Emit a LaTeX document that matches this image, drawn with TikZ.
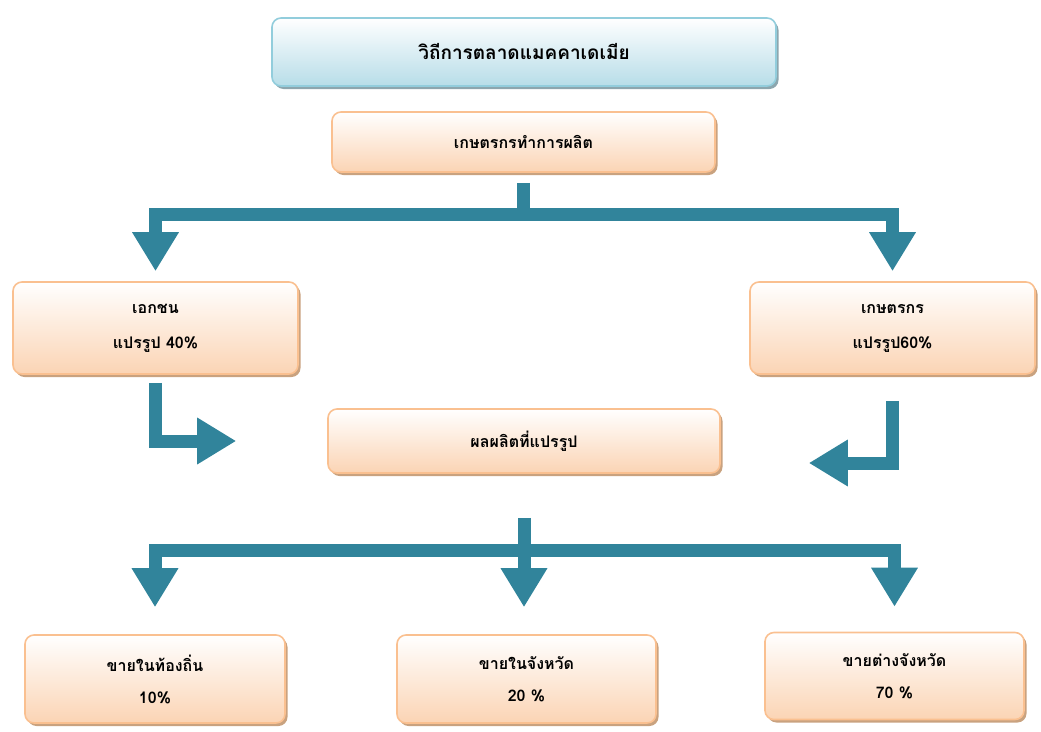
\documentclass[tikz,border=0pt]{standalone}
\usepackage{fontspec}
\newfontfamily\thaifont[Script=Thai]{Loma}
\usetikzlibrary{arrows.meta,shadows,calc}
\definecolor{flowteal}{HTML}{31849B}
\definecolor{peach}{HTML}{FBD4B4}
\definecolor{peachline}{HTML}{FAC090}
\definecolor{peachshadow}{HTML}{C9A27F}
\definecolor{titleblue}{HTML}{B7DDE8}
\definecolor{titleline}{HTML}{92CDDC}
\definecolor{titleshadow}{HTML}{8CA6AE}
\begin{document}
\begin{tikzpicture}[x=1pt,y=-1pt,
  panel/.style={rectangle, rounded corners=9pt, line width=1.6pt, top color=white,
    align=center, inner sep=0pt, text=black},
  box/.style={panel, draw=peachline, bottom color=peach,
    drop shadow={shadow xshift=2.5pt, shadow yshift=-3pt, fill=peachshadow, opacity=1},
    font=\thaifont\bfseries\fontsize{16}{19}\selectfont},
  titlebox/.style={panel, draw=titleline, bottom color=titleblue,
    drop shadow={shadow xshift=2.5pt, shadow yshift=-3pt, fill=titleshadow, opacity=1},
    font=\thaifont\bfseries\fontsize{19}{22}\selectfont},
  pipe/.style={draw=flowteal, line width=13pt},
  flow/.style={pipe, -{Triangle[width=44pt,length=39pt]}}]
\useasboundingbox (0,0) rectangle (1041,731);

% boxes
\node[titlebox, minimum width=504pt, minimum height=68pt] (title) at (524,52) {วิถีการตลาดแมคคาเดเมีย};
\node[box, minimum width=383pt, minimum height=60pt] (prod) at (523.5,142) {เกษตรกรทำการผลิต};
\node[box, minimum width=285pt, minimum height=92pt] (priv) at (155.5,328) {เอกชน\\[16pt]แปรรูป 40\%};
\node[box, minimum width=285pt, minimum height=92pt] (far) at (892.5,328) {เกษตรกร\\[16pt]แปรรูป60\%};
\node[box, minimum width=392pt, minimum height=64pt] (proc) at (524,441) {ผลผลิตที่แปรรูป};
\node[box, minimum width=260pt, minimum height=88pt] (local) at (155,679) {ขายในท้องถิ่น\\[13pt]10\%};
\node[box, minimum width=259pt, minimum height=88pt] (province) at (526.5,679) {ขายในจังหวัด\\[13pt]20 \%};
\node[box, minimum width=259pt, minimum height=87pt] (outside) at (894.5,676) {ขายต่างจังหวัด\\[13pt]70 \%};

% arrows
\coordinate (fork1) at (523.5,214);
\draw[pipe] ($(prod.south)+(0,10)$) -- ($(fork1)+(0,6.5)$);
\draw[flow, shorten >=10pt] (fork1) -| (priv.north);
\draw[flow, shorten >=10pt] (fork1) -| (far.north);
\draw[flow, shorten <=8pt, shorten >=91pt] (priv.south) |- (proc.west);
\draw[flow, shorten <=26pt, shorten >=88pt] (far.south) |- ($(proc.east)+(0,22)$);
\coordinate (fork2) at (524,550);
\draw[pipe] ($(proc.south)+(0,44)$) -- ($(fork2)+(0,6.5)$);
\draw[flow, shorten >=27pt] (fork2) -| (local.north);
\draw[flow, shorten >=27pt] (fork2) -- (fork2 |- province.north);
\draw[flow, shorten >=25pt] (fork2) -| (outside.north);
\end{tikzpicture}
\end{document}
